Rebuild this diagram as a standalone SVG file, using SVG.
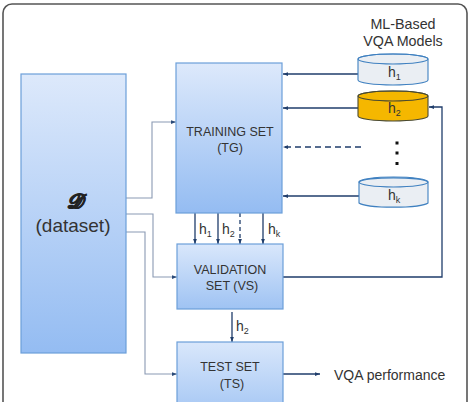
<svg xmlns="http://www.w3.org/2000/svg" width="469" height="402" viewBox="0 0 469 402">
<defs>
<linearGradient id="gBox" x1="0" y1="0" x2="0" y2="1">
<stop offset="0" stop-color="#dde9fb"/>
<stop offset="1" stop-color="#94bcf2"/>
</linearGradient>
<linearGradient id="gSmall" x1="0" y1="0" x2="0" y2="1">
<stop offset="0" stop-color="#d9e7fb"/>
<stop offset="1" stop-color="#9fc3f3"/>
</linearGradient>
<marker id="ah" viewBox="0 0 8 6" refX="8" refY="3" markerWidth="5" markerHeight="4" orient="auto" markerUnits="userSpaceOnUse">
<path d="M0,0 L8,3 L0,6 Z" fill="#1f3d6b"/>
</marker>
<marker id="ahg" viewBox="0 0 8 6" refX="8" refY="3" markerWidth="5" markerHeight="4" orient="auto" markerUnits="userSpaceOnUse">
<path d="M0,0 L8,3 L0,6 Z" fill="#2a4a78"/>
</marker>
</defs>
<style>
.box{stroke:#6c9fd9;stroke-width:1.2}
.t{font-family:"Liberation Sans",Arial,sans-serif;fill:#333;text-anchor:middle}
.lab{font-family:"Liberation Sans",Arial,sans-serif;fill:#333}
.c{fill:none;stroke:#1f3d6b;stroke-width:1.3;marker-end:url(#ah)}
.g{fill:none;stroke:#8a9ab3;stroke-width:1.1;marker-end:url(#ahg)}
.cyl{fill:#eaeef3;stroke:#3f80c0;stroke-width:1.1}
.cyl2{fill:#f5b700;stroke:#4a4a30;stroke-width:1.1}
</style>
<rect x="3" y="4" width="464" height="420" rx="9" fill="#fff" stroke="#555" stroke-width="1.6"/>
<g id="connectors">
<path class="g" d="M126,198 H152 V122 H176"/>
<path class="g" d="M126,214 H153 V277 H177"/>
<path class="g" d="M126,232 H145 V374 H177"/>
<path class="c" d="M358,74 H283"/>
<path class="c" d="M358,108 H283"/>
<path class="c" d="M361,147 H283" stroke-dasharray="6,4"/>
<path class="c" d="M359,196 H283"/>
<path class="c" d="M195,213 V244"/>
<path class="c" d="M218,213 V244"/>
<path class="c" d="M240,213 V244" stroke-dasharray="4,3"/>
<path class="c" d="M263,213 V244"/>
<path class="c" d="M283,277 H442 V107 H429" stroke-width="1.8"/>
<path class="c" d="M232,312 V342"/>
<path class="c" d="M283,374 H320" stroke-width="1.8"/>
<text class="lab" x="199" y="234" font-size="14">h<tspan font-size="9" dy="3">1</tspan></text>
<text class="lab" x="222" y="234" font-size="14">h<tspan font-size="9" dy="3">2</tspan></text>
<text class="lab" x="268" y="234" font-size="14">h<tspan font-size="9" dy="3">k</tspan></text>
<text class="lab" x="236" y="331" font-size="14">h<tspan font-size="9" dy="3">2</tspan></text>
</g>
<g id="dataset">
<rect class="box" x="21" y="74" width="105" height="279" fill="url(#gBox)"/>
<text class="t" x="74" y="208" font-size="20" font-family="'Liberation Serif',serif" font-weight="bold" font-style="italic" stroke="#222" stroke-width="0.8" fill="#222">𝓓</text>
<text class="t" x="73" y="232" font-size="19">(dataset)</text>
</g>
<g id="training">
<rect class="box" x="176" y="63" width="106" height="150" fill="url(#gBox)"/>
<text class="t" x="230" y="136" font-size="12.5">TRAINING SET</text>
<text class="t" x="230" y="152" font-size="12.5">(TG)</text>
</g>
<g id="validation">
<rect class="box" x="177" y="244" width="106" height="65" fill="url(#gSmall)"/>
<text class="t" x="230" y="274" font-size="12.5">VALIDATION</text>
<text class="t" x="232" y="290" font-size="12.5">SET (VS)</text>
</g>
<g id="test">
<rect class="box" x="177" y="342" width="106" height="80" fill="url(#gSmall)"/>
<text class="t" x="230" y="371" font-size="12.5">TEST SET</text>
<text class="t" x="232" y="388" font-size="12.5">(TS)</text>
</g>
<g id="models-title">
<text class="t" x="403" y="29" font-size="14.3">ML-Based</text>
<text class="t" x="403" y="46" font-size="14.3">VQA Models</text>
</g>
<g id="h1">
<path class="cyl" d="M358,59 A35,5 0 0,1 428,59 V80 A35,5 0 0,1 358,80 Z"/>
<ellipse cx="393" cy="59" rx="35" ry="5" fill="none" stroke="#3f80c0" stroke-width="1.1"/>
<text class="lab" x="388" y="77" font-size="14">h<tspan font-size="9" dy="3">1</tspan></text>
</g>
<g id="h2">
<path class="cyl2" d="M358,96 A35,5 0 0,1 428,96 V116 A35,5 0 0,1 358,116 Z"/>
<ellipse cx="393" cy="96" rx="35" ry="5" fill="none" stroke="#4a4a30" stroke-width="1.1"/>
<text class="lab" x="388" y="113" font-size="14">h<tspan font-size="9" dy="3">2</tspan></text>
</g>
<g id="dots">
<rect x="395.5" y="141.5" width="3" height="3" fill="#111"/>
<rect x="395.5" y="151.5" width="3" height="3" fill="#111"/>
<rect x="395.5" y="162" width="3" height="3" fill="#111"/>
</g>
<g id="hk">
<path class="cyl" d="M359,182 A35,5 0 0,1 428,182 V203 A35,5 0 0,1 359,203 Z"/>
<ellipse cx="393.5" cy="182" rx="34.5" ry="5" fill="none" stroke="#3f80c0" stroke-width="1.1"/>
<text class="lab" x="388" y="200" font-size="14">h<tspan font-size="9" dy="3">k</tspan></text>
</g>
<g id="performance">
<text class="lab" x="334" y="380" font-size="14">VQA performance</text>
</g>
</svg>
